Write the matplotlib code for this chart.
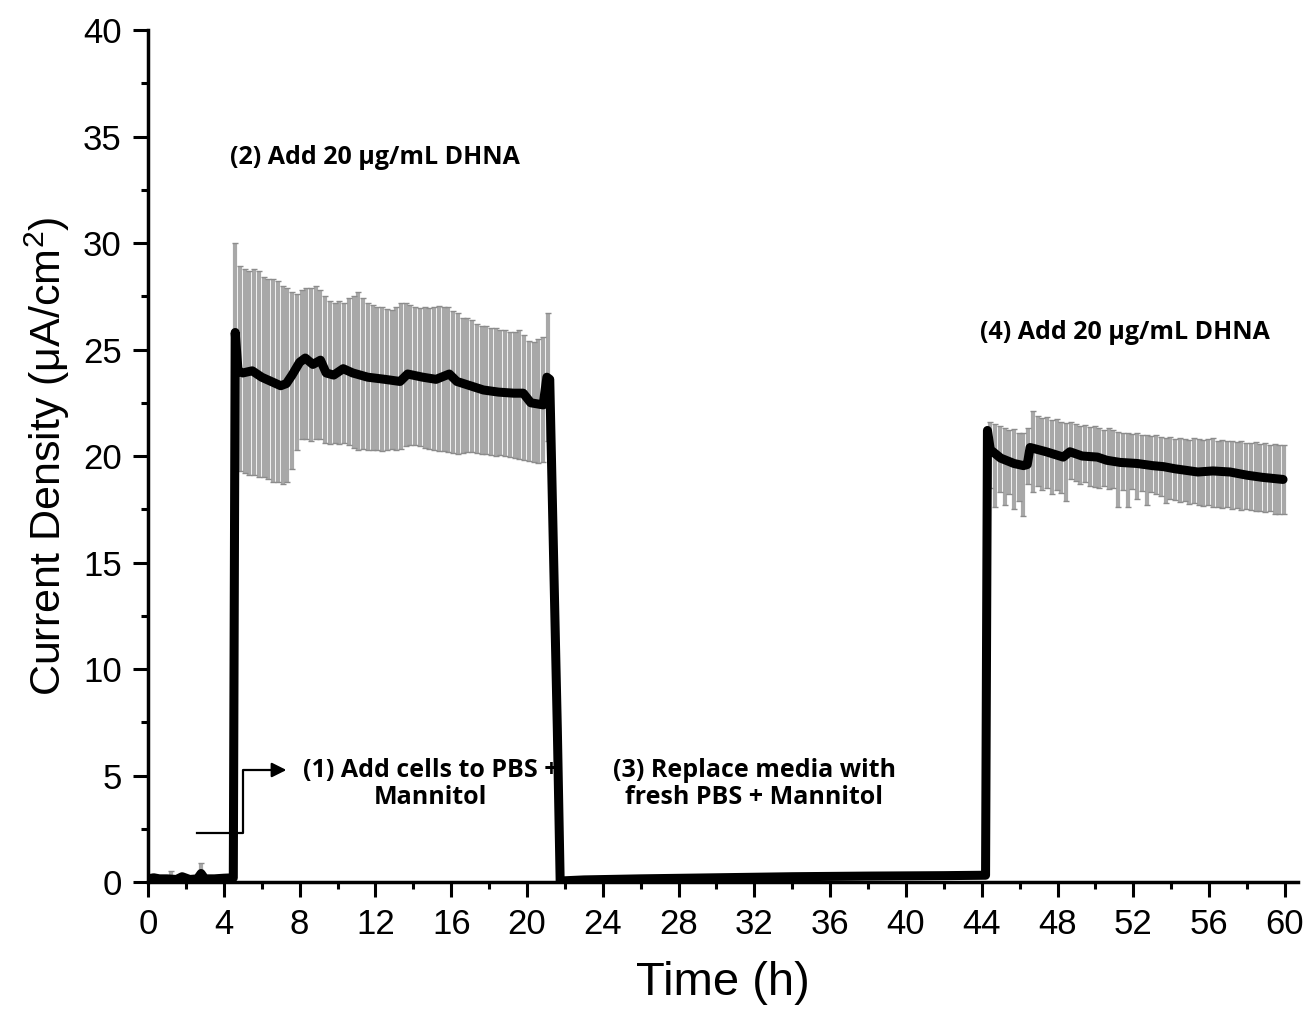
import numpy as np
import matplotlib
matplotlib.use("Agg")
import matplotlib.pyplot as plt
from matplotlib.ticker import MultipleLocator

plt.rcParams['font.family'] = ['Liberation Sans', 'DejaVu Sans']
plt.rcParams['mathtext.fontset'] = 'custom'
plt.rcParams['mathtext.rm'] = 'Liberation Sans'
plt.rcParams['mathtext.default'] = 'regular'

# mean current density trace (h, uA/cm2)
mean_t = [0, 0.3, 0.6, 1.0, 1.5, 1.8, 2.2, 2.6, 2.8, 3.0, 3.5, 4.0, 4.5,
          4.6, 4.75, 5.0, 5.5, 6.0, 6.5, 7.0, 7.3, 7.6, 8.0, 8.3, 8.7, 9.1,
          9.4, 9.8, 10.3, 10.8, 11.6, 12.5, 13.3, 13.7, 14.5, 15.2, 15.9,
          16.3, 17.0, 17.7, 18.5, 19.3, 19.8, 20.2, 20.85, 21.05, 21.2,
          21.6, 21.75, 23, 26, 30, 34, 38, 42, 44.2,
          44.3, 44.45, 45.0, 45.7, 46.2, 46.4, 46.55, 47.4, 48.3, 48.65,
          49.3, 50.1, 50.6, 51.3, 52.2, 53.0, 53.6, 54.2, 55.4, 56.2, 57.1,
          58.0, 58.8, 59.9]
mean_j = [0.15, 0.2, 0.15, 0.15, 0.12, 0.25, 0.12, 0.15, 0.4, 0.15, 0.15, 0.18, 0.2,
          25.8, 24.0, 23.9, 24.0, 23.7, 23.5, 23.3, 23.4, 23.8, 24.4, 24.6, 24.3, 24.5,
          23.9, 23.8, 24.1, 23.9, 23.7, 23.6, 23.5, 23.85, 23.7, 23.6, 23.85,
          23.5, 23.3, 23.1, 23.0, 22.95, 22.95, 22.5, 22.4, 23.7, 23.6,
          7.2, 0.05, 0.1, 0.15, 0.2, 0.25, 0.28, 0.3, 0.32,
          21.2, 20.3, 19.9, 19.65, 19.55, 19.6, 20.4, 20.2, 19.95, 20.2,
          20.0, 19.95, 19.8, 19.7, 19.65, 19.55, 19.5, 19.4, 19.25, 19.3, 19.25,
          19.1, 19.0, 18.9]

# error bars, first DHNA addition (every 0.25 h from 4.6 h)
hi_2 = [30.0, 28.9, 28.8, 28.7, 28.8, 28.7,
        28.4, 28.3, 28.3, 28.2,
        28.0, 27.9, 27.7, 27.6,
        27.8, 27.9, 27.9, 28.0,
        27.8, 27.5, 27.3, 27.2,
        27.3, 27.2, 27.4, 27.5,
        27.7, 27.4, 27.2, 27.1,
        27.0, 27.0, 26.9, 26.85,
        27.0, 27.2, 27.2, 27.1,
        27.0, 26.95, 27.0, 26.95,
        27.0, 27.05, 27.0, 27.0,
        26.8, 26.7, 26.5, 26.5,
        26.4, 26.2, 26.1, 26.1,
        26.0, 26.0, 25.9, 25.9,
        25.8, 25.8, 25.9, 25.7,
        25.4, 25.35, 25.5, 25.6,
        26.7]
lo_2 = [19.3, 19.3, 19.2, 19.1, 19.1, 19.0,
        19.0, 18.9, 18.8, 18.8,
        18.7, 18.8, 19.4, 20.3,
        20.8, 20.8, 20.7, 20.8,
        20.8, 20.6, 20.55, 20.6,
        20.55, 20.6, 20.5, 20.4,
        20.3, 20.35, 20.3, 20.3,
        20.3, 20.25, 20.3, 20.35,
        20.3, 20.35, 20.45, 20.5,
        20.5, 20.45, 20.4, 20.35,
        20.3, 20.25, 20.25, 20.2,
        20.15, 20.1, 20.15, 20.2,
        20.2, 20.15, 20.1, 20.1,
        20.05, 20.0, 20.05, 20.0,
        19.95, 19.9, 19.85, 19.8,
        19.75, 19.7, 19.65, 19.7,
        20.7]

# error bars, second DHNA addition (every 0.25 h from 44.45 h)
hi_4 = [21.6, 21.5, 21.4,
        21.3, 21.2, 21.25, 21.1,
        21.1, 21.3, 22.1, 21.9,
        21.8, 21.85, 21.7, 21.75,
        21.6, 21.55, 21.6, 21.5,
        21.4, 21.45, 21.35, 21.4,
        21.3, 21.2, 21.3, 21.2,
        21.15, 21.1, 21.1, 21.05,
        21.1, 21.0, 21.0, 20.95,
        21.0, 20.9, 20.85, 20.9,
        20.8, 20.85, 20.8, 20.75,
        20.85, 20.8, 20.75, 20.8,
        20.85, 20.7, 20.75, 20.7,
        20.7, 20.65, 20.7, 20.6,
        20.6, 20.65, 20.55, 20.6,
        20.5, 20.55, 20.5, 20.5]
lo_4 = [18.5, 17.6, 18.3,
        17.7, 18.2, 17.5, 17.9,
        17.2, 18.7, 18.3, 18.6,
        18.4, 18.5, 18.2, 18.4,
        18.25, 17.9, 18.9, 18.85,
        18.7, 18.8, 18.6, 18.55,
        18.5, 18.6, 18.45, 18.5,
        17.6, 18.4, 17.6, 18.45,
        18.0, 18.35, 17.7, 18.3,
        18.2, 18.1, 17.8, 18.0,
        17.95, 17.85, 17.9, 17.75,
        17.8, 17.7, 17.65, 17.7,
        17.6, 17.6, 17.55, 17.6,
        17.5, 17.55, 17.45, 17.5,
        17.45, 17.4, 17.4, 17.35,
        17.4, 17.3, 17.3, 17.3]

# the few visible bars before cells were added
pre_t = [1.2, 2.8]
pre_lo = [0.1, 0.2]
pre_hi = [0.5, 0.9]

t_2 = 4.6 + 0.25 * np.arange(len(hi_2))
t_4 = 44.45 + 0.25 * np.arange(len(hi_4))

fig = plt.figure(figsize=(13.1, 10.17), dpi=100)
ax = fig.add_axes([0.113, 0.1327, 0.878, 0.8378])

bar_kw = dict(color='#a8a8a8', linewidth=3.0, zorder=1)
cap_kw = dict(linestyle='none', marker='_', markersize=4, color='#8c8c8c', zorder=1)
for bt, blo, bhi in [(t_2, lo_2, hi_2), (t_4, lo_4, hi_4), (pre_t, pre_lo, pre_hi)]:
    ax.vlines(bt, blo, bhi, **bar_kw)
    ax.plot(bt, bhi, **cap_kw)
    ax.plot(bt, blo, **cap_kw)

ax.plot(mean_t, mean_j, color='black', linewidth=6.5, solid_joinstyle='round',
        solid_capstyle='round', zorder=3)

ax.set_xlim(0, 60.7)
ax.set_ylim(0, 40)
ax.xaxis.set_major_locator(MultipleLocator(4))
ax.xaxis.set_minor_locator(MultipleLocator(2))
ax.yaxis.set_major_locator(MultipleLocator(5))
ax.yaxis.set_minor_locator(MultipleLocator(2.5))
ax.set_xticks(np.arange(0, 61, 4))
ax.spines['top'].set_visible(False)
ax.spines['right'].set_visible(False)
for s in ['left', 'bottom']:
    ax.spines[s].set_linewidth(2.5)
ax.tick_params(which='major', length=11, width=2.2, labelsize=25, pad=8)
ax.tick_params(which='minor', length=5, width=2.2)

ax.set_xlabel('Time (h)', fontsize=34, labelpad=14)
ax.set_ylabel('Current Density (μA/cm$^2$)', fontsize=31, labelpad=8)

note = dict(fontsize=18, fontweight='bold', family=['Open Sans', 'DejaVu Sans'])
ax.text(11.98, 34.0, '(2) Add 20 μg/mL DHNA', ha='center', va='center', **note)
ax.text(51.55, 25.8, '(4) Add 20 μg/mL DHNA', ha='center', va='center', **note)
ax.text(14.93, 4.6, '(1) Add cells to PBS +\nMannitol', ha='center', va='center',
        linespacing=1.15, **note)
ax.text(31.98, 4.6, '(3) Replace media with\nfresh PBS + Mannitol', ha='center', va='center',
        linespacing=1.15, **note)

ax.plot([2.59, 5.01, 5.01, 6.6], [2.3, 2.3, 5.26, 5.26], color='black', linewidth=1.6, zorder=4)
ax.annotate('', xy=(7.45, 5.26), xytext=(6.4, 5.26),
            arrowprops=dict(arrowstyle='-|>', color='black', linewidth=1.6, mutation_scale=22))

fig.savefig('out.png', dpi=100)
